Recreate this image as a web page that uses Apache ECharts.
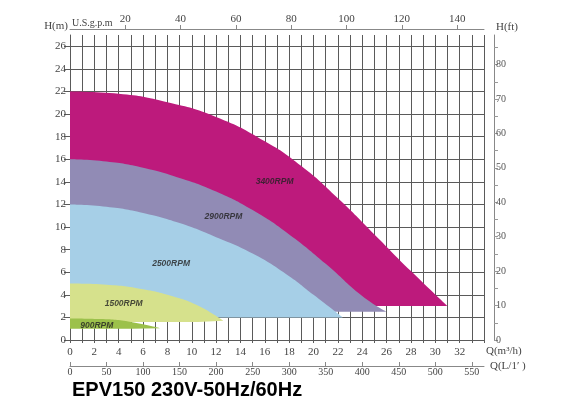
<!doctype html>
<html lang="en">
<head>
    <meta charset="UTF-8">
    <script src="https://cdn.jsdelivr.net/npm/echarts@6/dist/echarts.min.js"></script>
    <title>EPV150 pump curves</title>
    <style>
        html, body { margin: 0; padding: 0; background: #fff; }
    </style>
</head>
<body>
<div id="pump-curve" style="width: 580px;height:409px;"></div>
<script>
    // curves: [Q m3/h, H m]
    var curve3400 = [[0, 22], [4, 21.8], [8, 21.05], [12, 19.75], [16, 17.6], [19, 15.4], [22, 12.55], [25, 9.35], [28, 6.1], [31, 3]];
    var curve2900 = [[0, 16], [3, 15.8], [6, 15.25], [9, 14.35], [12, 13.15], [15, 11.5], [18, 9.35], [21, 6.75], [24, 3.9], [26, 2.5]];
    var curve2500 = [[0, 12], [3, 11.8], [6, 11.25], [9, 10.35], [12, 9.1], [15, 7.65], [18, 5.65], [20, 4.0], [22.4, 2.0]];
    var curve1500 = [[0, 5], [3, 4.9], [6, 4.5], [8.5, 3.85], [10.5, 3.05], [12.6, 1.7]];
    var curve900 = [[0, 1.9], [2.5, 1.85], [5, 1.6], [7.4, 1.05]];
    // bottom of each coloured band (m)
    var bases = [3, 2.5, 2.0, 1.6, 1.0];
    var speedNames = ['3400RPM', '2900RPM', '2500RPM', '1500RPM', '900RPM'];
    var labelQ = [16.8, 12.6, 8.3, 4.4, 2.2];
    var labelH = [14.05, 10.95, 6.75, 3.2, 1.25];

    // tick labels
    var qTicks = [0, 2, 4, 6, 8, 10, 12, 14, 16, 18, 20, 22, 24, 26, 28, 30, 32];
    var hTicks = [0, 2, 4, 6, 8, 10, 12, 14, 16, 18, 20, 22, 24, 26];
    var ftLabels = [0, 10, 20, 30, 40, 50, 60, 70, 80];
    var ftTicks = [0, 5, 10, 15, 20, 25, 30, 35, 40, 45, 50, 55, 60, 65, 70, 75, 80, 85];

    var qMax = 34, hMax = 27;
    var colors = ['#BD1A7C', '#918BB5', '#A6CFE7', '#D6E18C', '#9CC14B'];
    var curves = [curve3400, curve2900, curve2500, curve1500, curve900];

    var labelFont = {fontFamily: 'Liberation Serif', fontSize: 11, color: '#444'};
    var gridColor = '#5a5a5a';

    var myChart = echarts.init(document.getElementById('pump-curve'));

    var series = [];
    for (var i = 0; i < curves.length; i++) {
        series.push({
            name: speedNames[i],
            type: 'line',
            data: curves[i],
            smooth: 0.5,
            symbol: 'none',
            silent: true,
            animation: false,
            lineStyle: {width: 0, opacity: 0},
            areaStyle: {color: colors[i], opacity: 1, origin: bases[i]},
            z: 2 + i
        });
    }
    var labelData = [];
    for (var j = 0; j < speedNames.length; j++) {
        labelData.push({value: [labelQ[j], labelH[j]], name: speedNames[j]});
    }
    series.push({
        type: 'scatter',
        data: labelData,
        symbolSize: 0,
        silent: true,
        animation: false,
        z: 10,
        label: {
            show: true,
            position: 'inside',
            formatter: '{b}',
            fontFamily: 'Liberation Sans',
            fontSize: 8.5,
            fontWeight: 'bold',
            fontStyle: 'italic',
            color: '#222'
        }
    });

    var option = {
        backgroundColor: '#fff',
        animation: false,
        title: {
            text: 'EPV150 230V-50Hz/60Hz',
            left: 72,
            top: 380,
            padding: 0,
            textStyle: {fontFamily: 'Liberation Sans', fontSize: 20, fontWeight: 'bold', color: '#000'}
        },
        grid: {left: 70, right: 96, top: 35, bottom: 69, containLabel: false},
        xAxis: [
            {
                type: 'value', position: 'bottom', min: 0, max: qMax, interval: 1,
                name: 'Q(m³/h)', nameLocation: 'end', nameGap: 2, nameMoveOverlap: false,
                nameTextStyle: {fontFamily: 'Liberation Serif', fontSize: 11, color: '#444', align: 'left', verticalAlign: 'top', padding: [6, 0, 0, 0]},
                axisLine: {show: true, onZero: false, lineStyle: {color: gridColor}},
                axisTick: {show: true, length: 3, lineStyle: {color: gridColor}},
                axisLabel: Object.assign({customValues: qTicks, margin: 7}, labelFont),
                splitLine: {show: true, lineStyle: {color: gridColor, width: 1}}
            },
            {
                type: 'value', position: 'top', offset: 6, min: 0, max: qMax * 4.40287, interval: 20,
                name: 'U.S.g.p.m', nameLocation: 'start', nameGap: -2, nameMoveOverlap: false,
                nameTextStyle: {fontFamily: 'Liberation Serif', fontSize: 10, color: '#444', align: 'left', verticalAlign: 'bottom', padding: [0, 0, 1, 0]},
                axisLine: {show: true, onZero: false, lineStyle: {color: '#888'}},
                axisTick: {show: true, length: 4, lineStyle: {color: '#888'}},
                axisLabel: Object.assign({showMinLabel: false, showMaxLabel: false, margin: 4}, labelFont),
                splitLine: {show: false}
            },
            {
                type: 'value', position: 'bottom', offset: 26, min: 0, max: qMax * 1000 / 60, interval: 50,
                name: 'Q(L/1′ )', nameLocation: 'end', nameGap: 6, nameMoveOverlap: false,
                nameTextStyle: {fontFamily: 'Liberation Serif', fontSize: 11, color: '#444', align: 'left', verticalAlign: 'middle'},
                axisLine: {show: true, onZero: false, lineStyle: {color: '#888'}},
                axisTick: {show: true, inside: true, length: 4, lineStyle: {color: '#888'}},
                axisLabel: {showMaxLabel: false, margin: 1, fontFamily: 'Liberation Serif', color: '#444', fontSize: 10},
                splitLine: {show: false}
            }
        ],
        yAxis: [
            {
                type: 'value', position: 'left', min: 0, max: hMax, interval: 1,
                name: 'H(m)', nameLocation: 'end', nameGap: 3, nameMoveOverlap: false,
                nameTextStyle: {fontFamily: 'Liberation Serif', fontSize: 11, color: '#444', align: 'right', padding: [0, 2, 0, 0]},
                axisLine: {show: true, onZero: false, lineStyle: {color: gridColor}},
                axisTick: {show: true, customValues: hTicks, length: 6, lineStyle: {color: gridColor}},
                axisLabel: Object.assign({customValues: hTicks, margin: 4}, labelFont),
                splitLine: {show: true, lineStyle: {color: gridColor, width: 1}}
            },
            {
                type: 'value', position: 'right', offset: 10, min: 0, max: hMax * 3.28084,
                name: 'H(ft)', nameLocation: 'end', nameGap: 2, nameMoveOverlap: false,
                nameTextStyle: {fontFamily: 'Liberation Serif', fontSize: 11, color: '#444', align: 'left', padding: [0, 0, 0, 2]},
                axisLine: {show: true, onZero: false, lineStyle: {color: '#888'}},
                axisTick: {show: true, customValues: ftTicks, length: 4, lineStyle: {color: '#999'}},
                axisLabel: {customValues: ftLabels, margin: 2, fontFamily: 'Liberation Serif', fontSize: 10, color: '#555'},
                splitLine: {show: false}
            }
        ],
        series: series
    };

    myChart.setOption(option);
</script>
</body>
</html>
